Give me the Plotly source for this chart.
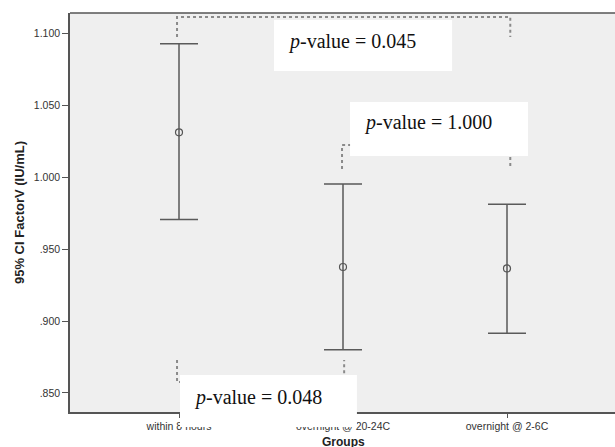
import plotly.graph_objects as go

# ---- data ----
groups = ["within 8 hours", "overnight @ 20-24C", "overnight @ 2-6C"]
means = [1.031, 0.9375, 0.9365]
ci_upper = [1.0925, 0.9952, 0.9810]
ci_lower = [0.9705, 0.8800, 0.8915]
ytick_vals = [0.85, 0.90, 0.95, 1.00, 1.05, 1.10]
ytick_text = [".850", ".900", ".950", "1.000", "1.050", "1.100"]
x_title = "Groups"
y_title = "95% CI FactorV (IU/mL)"

# comparison brackets: (left x, right x, level, left end, right end)
brackets = [
    (-0.012, 2.02, 1.1111, 1.0972, 1.0972),
    (-0.006 + 1, 2.02, 1.0222, 1.0056, 1.0069),
    (-0.012, 1.007, 0.8576, 0.8729, 0.8729),
]
p_labels = ["<i>p</i>-value = 0.045", "<i>p</i>-value = 1.000", "<i>p</i>-value = 0.048"]
p_text_pos = [(1.053, 1.0944), (1.518, 1.0382), (0.482, 0.8472)]
# label boxes in data units: x0, x1, y0(top), y1(bottom)
p_boxes = [(0.579, 1.665, 1.1090, 1.0736), (1.043, 2.128, 1.0521, 1.0146), (0.006, 1.085, 0.8625, 0.8264)]

xr = [-0.6646, 2.6585]
yr = [0.8368, 1.1139]

x_idx = list(range(len(groups)))
fig = go.Figure()
fig.add_trace(go.Scatter(
    x=x_idx, y=means, mode="markers",
    marker=dict(symbol="circle-open", size=7, color="#555", line=dict(width=1.2, color="#555")),
    error_y=dict(type="data", symmetric=False,
                 array=[u - m for u, m in zip(ci_upper, means)],
                 arrayminus=[m - l for m, l in zip(means, ci_lower)],
                 color="#5a5a5a", thickness=1.5, width=19),
    showlegend=False, hoverinfo="skip"))

# top frame line (no right frame in the original)
shapes = [dict(type="line", xref="paper", yref="paper", x0=0, x1=1, y0=1, y1=1,
               line=dict(color="#555", width=1.5), layer="above")]
for (xl, xrr, lvl, yl, yrr) in brackets:
    shapes.append(dict(type="path", xref="x", yref="y",
                       path=f"M {xl},{yl} L {xl},{lvl} L {xrr},{lvl} L {xrr},{yrr}",
                       line=dict(color="#8a8a8a", width=2, dash="dot"), layer="above"))

def px(v):
    return (v - xr[0]) / (xr[1] - xr[0])

def py(v):
    return (v - yr[0]) / (yr[1] - yr[0])

for (x0, x1, y0, y1) in p_boxes:
    shapes.append(dict(type="rect", xref="paper", yref="paper",
                       x0=px(x0), x1=px(x1), y0=py(y1), y1=py(y0),
                       fillcolor="white", line=dict(width=0), layer="above"))

annotations = []
for t, (ax, ay) in zip(p_labels, p_text_pos):
    annotations.append(dict(x=ax, y=ay, xref="x", yref="y", text=t, showarrow=False,
                            font=dict(family="Liberation Serif", size=20, color="#111")))
annotations.append(dict(x=1, y=-0.052, xref="x", yref="paper", yanchor="top",
                        text=f"<b>{x_title}</b>", showarrow=False,
                        font=dict(family="Liberation Sans", size=12, color="#222")))

fig.update_layout(
    width=615, height=447,
    margin=dict(l=70, r=0, t=13, b=35),
    paper_bgcolor="white", plot_bgcolor="#efefef",
    shapes=shapes, annotations=annotations,
    font=dict(family="Liberation Sans", size=11, color="#333"),
)
fig.update_xaxes(range=xr, tickvals=x_idx, ticktext=groups, showgrid=False, zeroline=False,
                 automargin=False,
                 showline=True, mirror=False, linecolor="#555", linewidth=1.5,
                 ticks="outside", ticklen=4, tickcolor="#555", tickwidth=1.2,
                 tickfont=dict(size=10.5, color="#333"))
fig.update_yaxes(range=yr, tickvals=ytick_vals, ticktext=ytick_text, showgrid=False, zeroline=False,
                 automargin=False,
                 showline=True, mirror=False, linecolor="#555", linewidth=1.5,
                 ticks="outside", ticklen=6, tickcolor="#555", tickwidth=1.2,
                 tickfont=dict(size=10.5, color="#333"),
                 title=dict(text=f"<b>{y_title}</b>", font=dict(size=13, color="#222"), standoff=6))

fig.write_html("out.html", config={"displayModeBar": False},
               post_script="document.body.style.margin='0';document.body.style.overflow='hidden';")
